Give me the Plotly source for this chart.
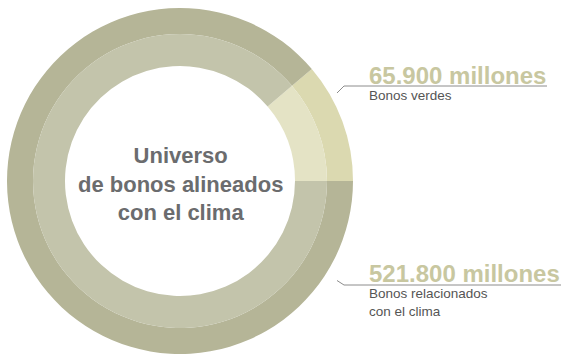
import plotly.graph_objects as go

# Climate-aligned bond universe (millions)
categories = ["Bonos verdes", "Bonos relacionados con el clima"]
values = [65.9, 521.8]
descriptions = ["Bonos verdes", "Bonos relacionados<br>con el clima"]
center_title = "Universo<br>de bonos alineados<br>con el clima"

W, H = 563, 356
outer_colors = ["#dbd9b0", "#b5b597"]
inner_colors = ["#e4e3c5", "#c3c4ab"]

cx, cy = 180, 181          # donut centre in px
r_outer, r_mid, r_hole = 173, 147, 115

# green slice ends at 3 o'clock, so it starts its own sweep earlier (clockwise)
start_angle = 90 - 360 * values[0] / sum(values)


def px_x(x):
    return x / W


def px_y(y):
    return 1 - y / H


def dom(r):
    return dict(x=[px_x(cx - r), px_x(cx + r)], y=[px_y(cy + r), px_y(cy - r)])


def fmt_millions(v):
    return f"{v * 1000:,.0f}".replace(",", ".") + " millones"


fig = go.Figure()
for r, hole, cols in [(r_outer, r_mid / r_outer, outer_colors),
                      (r_mid, r_hole / r_mid, inner_colors)]:
    fig.add_trace(go.Pie(
        labels=categories, values=values, sort=False,
        direction="clockwise", rotation=start_angle,
        hole=hole, domain=dom(r),
        marker=dict(colors=cols, line=dict(width=0)),
        textinfo="none", hoverinfo="skip", showlegend=False,
    ))

font_family = "Liberation Sans, Arial, sans-serif"
annotations = [
    dict(text=center_title, x=px_x(cx), y=px_y(184), xanchor="center", yanchor="middle",
         font=dict(family=font_family, size=22, color="#6b6c6e", weight="bold"), align="center"),
]

# value labels with leader lines
label_specs = [
    # (value index, value centre y, description centre y, line y, diag start)
    (0, 75, 95.3, 86, (337, 93)),
    (1, 273.5, 302.8, 285, (337, 280.5)),
]
line_ends = [547, 561]
shapes = []
for (i, vy, dy, ly, (sx, sy)), xend in zip(label_specs, line_ends):
    annotations.append(dict(
        text=fmt_millions(values[i]), x=px_x(368), y=px_y(vy), xanchor="left", yanchor="middle",
        font=dict(family=font_family, size=24, color="#c8c7a0", weight="bold"), borderpad=0))
    annotations.append(dict(
        text=descriptions[i], x=px_x(368), y=px_y(dy), xanchor="left", yanchor="middle",
        font=dict(family=font_family, size=13.5, color="#555555"), align="left", borderpad=0))
    shapes.append(dict(type="path", xref="paper", yref="paper",
                       path=f"M {px_x(sx)} {px_y(sy)} L {px_x(sx + 7)} {px_y(ly)} L {px_x(xend)} {px_y(ly)}",
                       line=dict(color="#8c8c8c", width=1)))

fig.update_layout(
    width=W, height=H, margin=dict(l=0, r=0, t=0, b=0),
    paper_bgcolor="white", plot_bgcolor="white",
    annotations=[dict(a, xref="paper", yref="paper", showarrow=False) for a in annotations],
    shapes=shapes,
)
fig.write_html("out.html")
